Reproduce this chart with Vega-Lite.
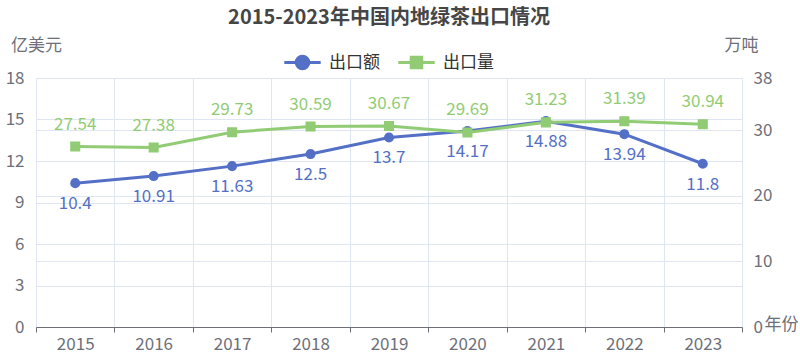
{
  "$schema": "https://vega.github.io/schema/vega-lite/v6.json",
  "width": 706,
  "height": 249,
  "autosize": "none",
  "padding": {"left": 36, "top": 78, "right": 58, "bottom": 28},
  "background": "white",
  "title": {
    "text": "2015-2023年中国内地绿茶出口情况",
    "font": "Noto Sans CJK SC",
    "fontSize": 20,
    "fontWeight": "bold",
    "color": "#464646",
    "anchor": "middle",
    "frame": "group",
    "offset": 8
  },
  "config": {
    "font": "Noto Sans CJK SC",
    "view": {"stroke": null},
    "axis": {
      "labelFont": "Noto Sans CJK SC",
      "titleFont": "Noto Sans CJK SC",
      "labelFontSize": 17,
      "titleFontSize": 17,
      "labelColor": "#6e7079",
      "titleColor": "#6e7079",
      "titleFontWeight": "normal",
      "gridColor": "#e0e6f1",
      "gridWidth": 1
    },
    "legend": {"labelFont": "Noto Sans CJK SC"}
  },
  "data": {
    "values": [
      {"year": "2015", "series": "出口额", "value": 10.4, "label": "10.4"},
      {"year": "2016", "series": "出口额", "value": 10.91, "label": "10.91"},
      {"year": "2017", "series": "出口额", "value": 11.63, "label": "11.63"},
      {"year": "2018", "series": "出口额", "value": 12.5, "label": "12.5"},
      {"year": "2019", "series": "出口额", "value": 13.7, "label": "13.7"},
      {"year": "2020", "series": "出口额", "value": 14.17, "label": "14.17"},
      {"year": "2021", "series": "出口额", "value": 14.88, "label": "14.88"},
      {"year": "2022", "series": "出口额", "value": 13.94, "label": "13.94"},
      {"year": "2023", "series": "出口额", "value": 11.8, "label": "11.8"},
      {"year": "2015", "series": "出口量", "value": 27.54, "label": "27.54"},
      {"year": "2016", "series": "出口量", "value": 27.38, "label": "27.38"},
      {"year": "2017", "series": "出口量", "value": 29.73, "label": "29.73"},
      {"year": "2018", "series": "出口量", "value": 30.59, "label": "30.59"},
      {"year": "2019", "series": "出口量", "value": 30.67, "label": "30.67"},
      {"year": "2020", "series": "出口量", "value": 29.69, "label": "29.69"},
      {"year": "2021", "series": "出口量", "value": 31.23, "label": "31.23"},
      {"year": "2022", "series": "出口量", "value": 31.39, "label": "31.39"},
      {"year": "2023", "series": "出口量", "value": 30.94, "label": "30.94"}
    ]
  },
  "encoding": {
    "x": {
      "field": "year",
      "type": "ordinal",
      "bandPosition": 0.5,
      "scale": {"type": "band", "paddingInner": 0, "paddingOuter": 0},
      "axis": {
        "title": "年份",
        "titleAngle": 0,
        "titleX": 728,
        "titleY": -3,
        "titleAlign": "left",
        "titleBaseline": "middle",
        "labelAngle": 0,
        "tickBand": "extent",
        "grid": true,
        "domainColor": "#6e7079",
        "tickColor": "#6e7079",
        "tickSize": 5,
        "labelPadding": 4
      }
    }
  },
  "layer": [
    {
      "transform": [{"filter": "datum.series === '出口额'"}],
      "encoding": {
        "y": {
          "field": "value",
          "type": "quantitative",
          "scale": {"domain": [0, 18], "nice": false},
          "axis": {
            "orient": "left",
            "values": [0, 3, 6, 9, 12, 15, 18],
            "title": "亿美元",
            "titleAngle": 0,
            "titleX": 0,
            "titleY": -33,
            "titleAlign": "center",
            "titleBaseline": "middle",
            "domain": false,
            "ticks": false,
            "labelPadding": 12,
            "grid": true
          }
        }
      },
      "layer": [
        {"mark": {"type": "line", "color": "#5470c6", "strokeWidth": 3}, "encoding": {}},
        {
          "mark": {"type": "point", "filled": true, "shape": "circle", "size": 50, "opacity": 1, "stroke": "#5470c6", "strokeWidth": 3},
          "encoding": {
            "color": {
              "field": "series",
              "type": "nominal",
              "scale": {"domain": ["出口额"], "range": ["#5470c6"]},
              "legend": {
                "orient": "none",
                "legendX": 258,
                "legendY": -24,
                "direction": "horizontal",
                "title": null,
                "padding": 0,
                "symbolSize": 196,
                "symbolType": "M-2.6,0H2.6M0.9,0A0.9,0.9,0,1,1,-0.9,0A0.9,0.9,0,1,1,0.9,0Z",
                "symbolStrokeColor": "#5470c6",
                "symbolFillColor": "#5470c6",
                "symbolStrokeWidth": 3,
                "symbolOpacity": 1,
                "labelFontSize": 17,
                "labelColor": "#333333",
                "labelOffset": 18
              }
            }
          }
        },
        {
          "mark": {"type": "text", "color": "#5470c6", "fontSize": 17, "dy": 21, "font": "Noto Sans CJK SC"},
          "encoding": {"text": {"field": "label", "type": "nominal"}}
        }
      ]
    },
    {
      "transform": [{"filter": "datum.series === '出口量'"}],
      "encoding": {
        "y": {
          "field": "value",
          "type": "quantitative",
          "scale": {"domain": [0, 38], "nice": false},
          "axis": {
            "orient": "right",
            "values": [0, 10, 20, 30, 38],
            "title": "万吨",
            "titleAngle": 0,
            "titleX": -1,
            "titleY": -33,
            "titleAlign": "center",
            "titleBaseline": "middle",
            "domain": false,
            "ticks": false,
            "labelPadding": 11,
            "grid": true
          }
        }
      },
      "layer": [
        {"mark": {"type": "line", "color": "#91cc75", "strokeWidth": 3}, "encoding": {}},
        {
          "mark": {"type": "point", "filled": true, "shape": "square", "size": 50, "opacity": 1, "stroke": "#91cc75", "strokeWidth": 3},
          "encoding": {
            "color": {
              "field": "series",
              "type": "nominal",
              "scale": {"domain": ["出口量"], "range": ["#91cc75"]},
              "legend": {
                "orient": "none",
                "legendX": 372,
                "legendY": -24,
                "direction": "horizontal",
                "title": null,
                "padding": 0,
                "symbolSize": 196,
                "symbolType": "M-2.6,0H2.6M-0.75,-0.75H0.75V0.75H-0.75Z",
                "symbolStrokeColor": "#91cc75",
                "symbolFillColor": "#91cc75",
                "symbolStrokeWidth": 3,
                "symbolOpacity": 1,
                "labelFontSize": 17,
                "labelColor": "#333333",
                "labelOffset": 18
              }
            }
          }
        },
        {
          "mark": {"type": "text", "color": "#91cc75", "fontSize": 17, "dy": -22, "font": "Noto Sans CJK SC"},
          "encoding": {"text": {"field": "label", "type": "nominal"}}
        }
      ]
    }
  ],
  "resolve": {"scale": {"y": "independent", "color": "independent"}}
}
